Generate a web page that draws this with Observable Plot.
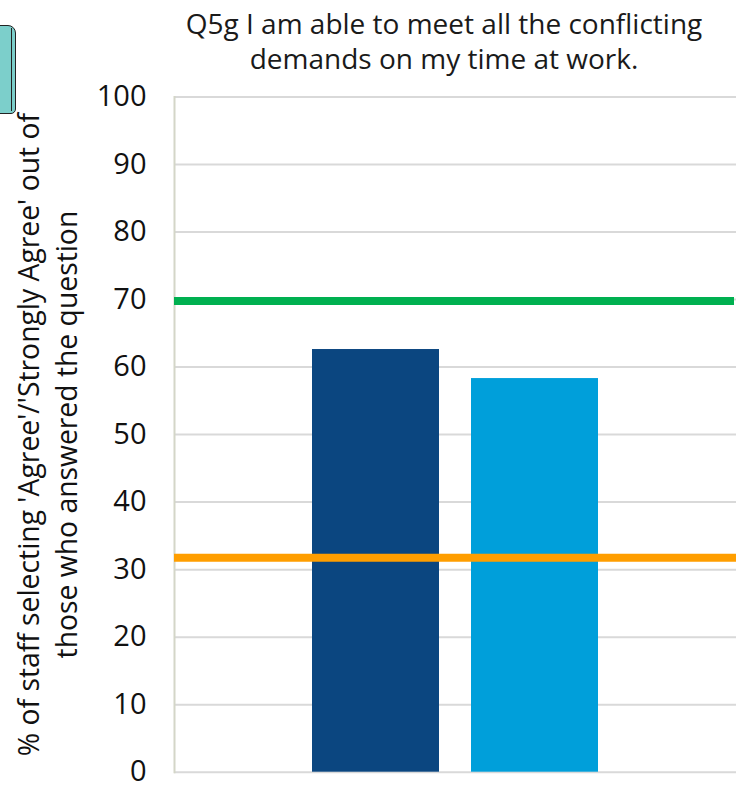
<!DOCTYPE html>
<html>
<head>
<meta charset="utf-8">
<script src="https://cdn.jsdelivr.net/npm/d3@7"></script>
<script src="https://cdn.jsdelivr.net/npm/@observablehq/plot@0.6"></script>
<style>
html,body{margin:0;padding:0;background:#fff;overflow:hidden}
#wrap{position:relative;width:736px;height:789px;font-family:"Open Sans",sans-serif}
#title{position:absolute;left:152px;width:584px;top:6px;text-align:center;font-size:28px;line-height:35px;color:#1a1a1a;white-space:nowrap}
#badge{position:absolute;left:-20px;top:25px;width:34px;height:87px;background:#7ccfcb;border:1px solid #222;border-radius:6px 8px 5px 4px;box-sizing:content-box}
#badge:after{content:"";position:absolute;left:30px;top:2px;bottom:2px;width:1px;background:#222}
svg{position:absolute;left:0;top:0}
</style>
</head>
<body>
<div id="wrap">
<div id="chart"></div>
<div id="title">Q5g I am able to meet all the conflicting<br>demands on my time at work.</div>
<div id="badge"></div>
</div>
<script>
const categories = ["Group A", "Group B"];
const values = [62.6, 58.3];
const barColors = ["#0b4680", "#009fda"];
const yTicks = [0,10,20,30,40,50,60,70,80,90,100];
const upperLine = 69.8;
const lowerLine = 31.75;
const yLabel = "% of staff selecting 'Agree'/'Strongly Agree' out of\nthose who answered the question";
const rows = categories.map((c,i)=>({category:c,value:values[i],color:barColors[i]}));

const chart = Plot.plot({
  width:736, height:789,
  marginTop:96.5, marginBottom:17.3, marginLeft:174, marginRight:0,
  style:{fontFamily:'"Open Sans",sans-serif',background:"transparent",color:"#111"},
  x:{domain:categories,axis:null,paddingInner:0.2,paddingOuter:0.863},
  y:{domain:[0,100],axis:null},
  marks:[
    Plot.ruleY(yTicks,{stroke:"#d9d9d9",strokeWidth:2}),
    Plot.frame({anchor:"left",stroke:"#d4d6c8",strokeWidth:2}),
    Plot.barY(rows,{x:"category",y:"value",fill:"color"}),
    Plot.ruleY([upperLine],{stroke:"#00b050",strokeWidth:8,insetRight:2}),
    Plot.ruleY([lowerLine],{stroke:"#ff9e00",strokeWidth:8}),
    Plot.axisY({ticks:yTicks,tickSize:0,tickPadding:28,fontSize:29,label:null,tickFormat:d=>d}),
    Plot.text([yLabel],{frameAnchor:"left",textAnchor:"middle",rotate:-90,dx:-129,fontSize:28.3,lineHeight:1.34,fill:"#111",text:d=>d})
  ]
});
document.getElementById("chart").append(chart);
</script>
</body>
</html>
